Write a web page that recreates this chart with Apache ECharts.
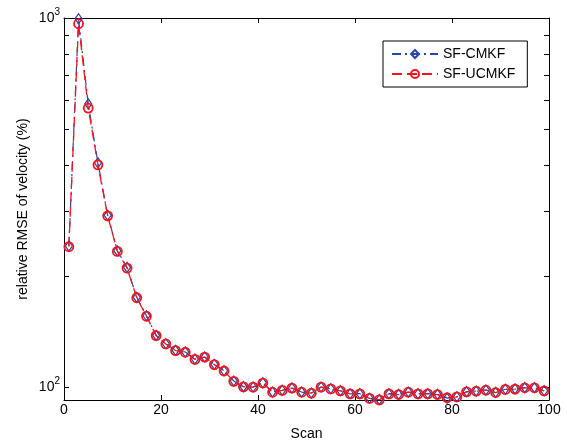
<!DOCTYPE html>
<html>
<head>
<meta charset="utf-8">
<script src="https://cdn.jsdelivr.net/npm/echarts@6/dist/echarts.min.js"></script>
<style>
html,body{margin:0;padding:0;background:#fff;}
#c{width:567px;height:441px;}
</style>
</head>
<body>
<div id="c"></div>
<script>
const scan = [1,3,5,7,9,11,13,15,17,19,21,23,25,27,29,31,33,35,37,39,41,43,45,47,49,51,53,55,57,59,61,63,65,67,69,71,73,75,77,79,81,83,85,87,89,91,93,95,97,99];
const cmkf = [241,995,585,405,292,234,211,175,156,138,131,125.7,124.4,119,120.6,115.2,110.7,103.8,100.2,100,102.7,96.9,98,99.4,96.9,96.3,100,98.9,97.7,95.9,95.9,93.2,92.4,95.9,95.5,96.9,95.9,95.9,95.5,93.3,94.1,97.1,97.5,98.1,96.7,98.6,98.8,99.6,99.6,97.7];
const ucmkf = [240,965,570,400,291,233,210,174.5,155.5,137.8,130.8,125.5,124.2,118.8,120.5,115,110.5,103.6,100.1,99.9,102.5,96.8,97.9,99.3,96.8,96.2,99.9,98.8,97.6,95.8,95.8,93.1,92.3,95.8,95.4,96.8,95.8,95.8,95.4,93.5,94.0,97.0,97.4,98.0,96.6,98.5,98.7,99.5,99.5,97.6];
const xTicks = [0,20,40,60,80,100];
const yMinorTicks = [100,200,300,400,500,600,700,800,900,1000];
const yLabels = [100,1000];
const seriesNames = ['SF-CMKF','SF-UCMKF'];

const FONT = "'Liberation Sans', Arial, Helvetica, sans-serif";
const blue = '#2b47a6';
const red = '#f0141e';

const chart = echarts.init(document.getElementById('c'), null, {renderer:'canvas'});

function yAxisDef(pos, showLabel){
  return {
    type:'log', logBase:10, position:pos, min:92.2, max:1000,
    axisLine:{show:true, onZero:false, lineStyle:{color:'#000', width:1}},
    axisTick:{show:true, inside:true, length:5, lineStyle:{color:'#000'}, customValues: yMinorTicks},
    axisLabel:{show:showLabel, customValues: yLabels, margin:4, color:'#000', fontFamily:FONT, fontSize:14,
      formatter: v => '{b|10}{s|' + Math.round(Math.log10(v)) + '}',
      rich:{ b:{fontSize:14, fontFamily:FONT, color:'#000', lineHeight:14, verticalAlign:'bottom'},
             s:{fontSize:10, fontFamily:FONT, color:'#000', lineHeight:14, verticalAlign:'bottom', padding:[0,0,8,0]} } },
    splitLine:{show:false}, minorTick:{show:false}, minorSplitLine:{show:false},
    name: showLabel ? 'relative RMSE of velocity (%)' : '',
    nameLocation:'middle', nameGap:34, nameRotate:90, nameMoveOverlap:false,
    nameTextStyle:{color:'#000', fontFamily:FONT, fontSize:14}
  };
}
function xAxisDef(pos, showLabel){
  return {
    type:'value', position:pos, min:0, max:100, interval:20,
    axisLine:{show:true, onZero:false, lineStyle:{color:'#000', width:1}},
    axisTick:{show:true, inside:true, length:5, lineStyle:{color:'#000'}},
    axisLabel:{show:showLabel, color:'#000', fontFamily:FONT, fontSize:14, margin:3,
      customValues: xTicks},
    splitLine:{show:false},
    name: showLabel ? 'Scan' : '', nameLocation:'middle', nameGap:27, nameMoveOverlap:false,
    nameTextStyle:{color:'#000', fontFamily:FONT, fontSize:14}
  };
}

chart.setOption({
  animation:false,
  backgroundColor:'#fff',
  grid:{left:64, right:18, top:18, bottom:41, containLabel:false, outerBoundsMode:'none'},
  legend:{
    orient:'vertical', left:383, top:41,
    padding:[6,12,6,8], itemGap:6, itemWidth:46, itemHeight:10,
    borderColor:'#000', borderWidth:1, backgroundColor:'#fff', borderRadius:0,
    textStyle:{color:'#000', fontFamily:FONT, fontSize:14},
    data: seriesNames
  },
  xAxis:[xAxisDef('bottom', true), xAxisDef('top', false)],
  yAxis:[yAxisDef('left', true), yAxisDef('right', false)],
  series:[
    {
      name:seriesNames[0], type:'line', xAxisIndex:0, yAxisIndex:0,
      data: scan.map((s,i)=>[s, cmkf[i]]),
      symbol:'diamond', symbolSize:[7,10], showAllSymbol:true,
      lineStyle:{color:blue, width:1.2, type:[9,4,2,4]},
      itemStyle:{color:'rgba(0,0,0,0)', borderColor:blue, borderWidth:1.3},
      emphasis:{disabled:true}, z:2
    },
    {
      name:seriesNames[1], type:'line', xAxisIndex:0, yAxisIndex:0,
      data: scan.map((s,i)=>[s, ucmkf[i]]),
      symbol:'circle', symbolSize:9, showAllSymbol:true,
      lineStyle:{color:red, width:1.3, type:[10,5]},
      itemStyle:{color:'rgba(0,0,0,0)', borderColor:red, borderWidth:1.8},
      emphasis:{disabled:true}, z:3
    }
  ]
});
</script>
</body>
</html>
